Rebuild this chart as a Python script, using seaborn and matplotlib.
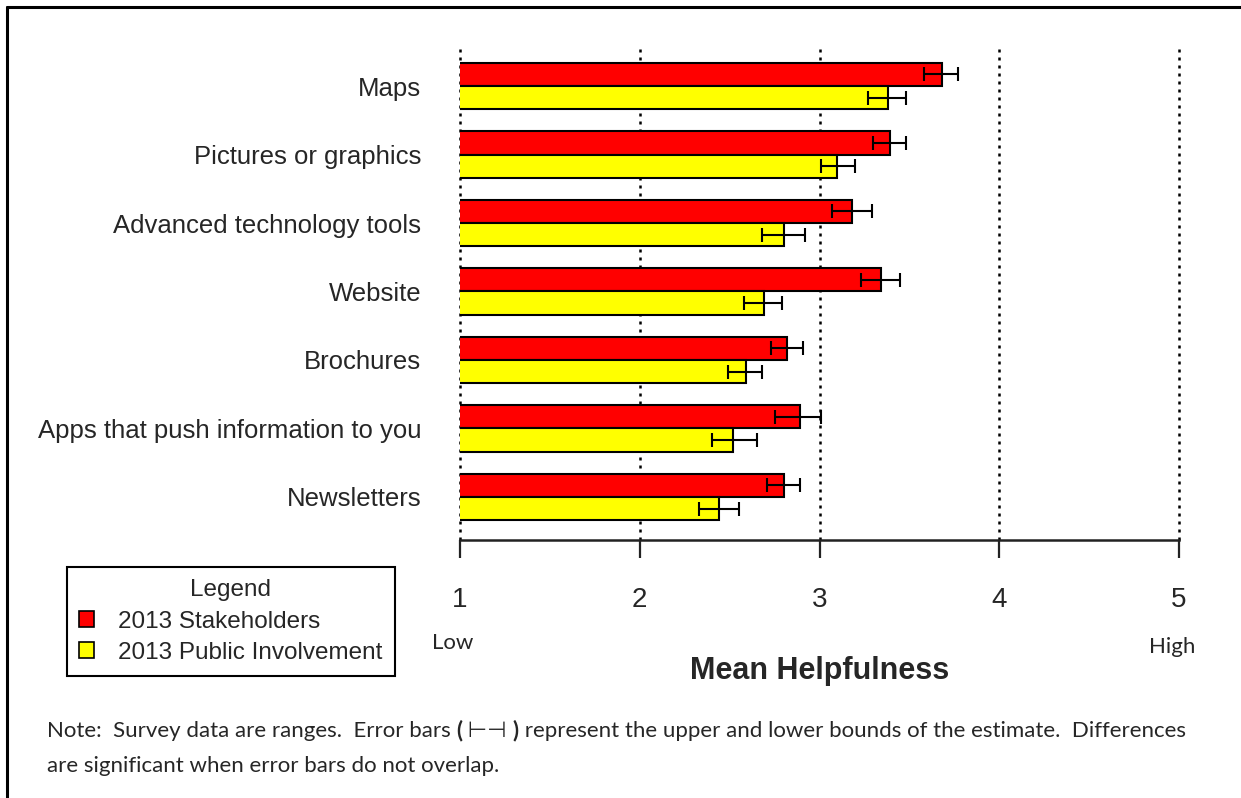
import pandas as pd
import numpy as np
import matplotlib.pyplot as plt
import seaborn as sns
from matplotlib.patches import Patch
from matplotlib.lines import Line2D

# ---------------------------
# Data
# ---------------------------
items = ["Maps", "Pictures or graphics", "Advanced technology tools", "Website",
         "Brochures", "Apps that push information to you", "Newsletters"]
groups = ["2013 Stakeholders", "2013 Public Involvement"]

stake_mean = [3.68, 3.39, 3.18, 3.34, 2.82, 2.89, 2.80]
stake_lo = [3.58, 3.30, 3.07, 3.23, 2.73, 2.75, 2.71]
stake_hi = [3.77, 3.48, 3.29, 3.45, 2.91, 3.01, 2.89]

public_mean = [3.38, 3.10, 2.80, 2.69, 2.59, 2.52, 2.44]
public_lo = [3.27, 3.01, 2.68, 2.58, 2.49, 2.40, 2.33]
public_hi = [3.48, 3.20, 2.92, 2.79, 2.68, 2.65, 2.55]

x_ticks = [1, 2, 3, 4, 5]
colors = ["#FF0000", "#FFFF00"]

df = pd.concat([
    pd.DataFrame({"item": items, "group": groups[0], "mean": stake_mean,
                  "lo": stake_lo, "hi": stake_hi}),
    pd.DataFrame({"item": items, "group": groups[1], "mean": public_mean,
                  "lo": public_lo, "hi": public_hi}),
], ignore_index=True)

# ---------------------------
# Style
# ---------------------------
sns.set_style("white")
plt.rcParams["font.family"] = ["Liberation Sans", "DejaVu Sans"]

W, H = 1241, 798
fig = plt.figure(figsize=(W / 100, H / 100), dpi=100)
ax = fig.add_axes([460 / W, 1 - 540 / H, (1179 - 460) / W, (540 - 45) / H])

# ---------------------------
# Bars
# ---------------------------
sns.barplot(data=df, x="mean", y="item", hue="group", order=items,
            hue_order=groups, palette=colors, saturation=1, orient="h",
            width=0.68, edgecolor="black", linewidth=1.5, errorbar=None,
            ax=ax, legend=False, zorder=2)

# error bars from lower/upper bounds
for cont, g in zip(ax.containers, groups):
    sub = df[df["group"] == g].set_index("item").loc[items]
    ys = [p.get_y() + p.get_height() / 2 for p in cont.patches]
    ax.errorbar(sub["mean"], ys,
                xerr=[sub["mean"] - sub["lo"], sub["hi"] - sub["mean"]],
                fmt="none", ecolor="black", elinewidth=1.5, capsize=4.7,
                capthick=1.5, zorder=3)

ax.set_xlim(1, 5)
ax.set_ylim(6.63, -0.6)
ax.set_xticks(x_ticks)
ax.set_xticklabels([str(t) for t in x_ticks])
ax.set_xlabel("")
ax.set_ylabel("")

for xv in x_ticks:
    ax.axvline(xv, color="black", lw=1.8, ls=(0, (1.2, 2.0)), zorder=1,
               clip_on=False)

for s in ["top", "left", "right"]:
    ax.spines[s].set_visible(False)
ax.spines["bottom"].set_color("#222222")
ax.spines["bottom"].set_linewidth(1.8)
ax.tick_params(axis="x", direction="out", length=13, width=1.6,
               color="#222222", pad=21, labelsize=20, bottom=True)
ax.tick_params(axis="y", length=0, pad=28, labelsize=18.5)

# ---------------------------
# Legend
# ---------------------------
handles = [Patch(facecolor=c, edgecolor="black", linewidth=1.2) for c in colors]
leg = ax.legend(handles, groups, title="Legend", loc="center",
                bbox_to_anchor=(231 / W, 1 - 621.5 / H),
                bbox_transform=fig.transFigure, fontsize=17.5,
                title_fontsize=17.5, frameon=True, fancybox=False,
                edgecolor="black", framealpha=1, borderpad=0.5,
                labelspacing=0.38, handlelength=0.6, handleheight=0.6,
                handletextpad=1.0)
leg.get_frame().set_linewidth(1.5)
leg.set_clip_on(False)

# ---------------------------
# Axis title and notes
# ---------------------------
fig.text(819.5 / W, 1 - 671 / H, "Mean Helpfulness", ha="center", va="center",
         fontsize=22, fontweight="bold")

note_font = ["Lato", "DejaVu Sans"]
note_size = 16
fig.text(453 / W, 1 - 643 / H, "Low", ha="center", va="center",
         fontsize=note_size, family=note_font)
fig.text(1172 / W, 1 - 647 / H, "High", ha="center", va="center",
         fontsize=note_size, family=note_font)

parts = [("Note:  Survey data are ranges.  Error bars ", "normal"),
         ("(", "bold"), (" \u22a2\u22a3 ", "normal"), (")", "bold"),
         (" represent the upper and lower bounds of the estimate.  Differences",
          "normal")]
prev = fig.text(47 / W, 1 - 731 / H, parts[0][0], ha="left", va="center",
                fontsize=note_size, family=note_font)
for txt, wt in parts[1:]:
    prev = ax.annotate(txt, xy=(1, 0), xycoords=prev, ha="left", va="bottom",
                       fontsize=note_size, fontweight=wt, family=note_font,
                       annotation_clip=False)
fig.text(47 / W, 1 - 766 / H, "are significant when error bars do not overlap.",
         ha="left", va="center", fontsize=note_size, family=note_font)

# outer frame (top and left edges)
fig.add_artist(Line2D([7 / W, 1], [1 - 7 / H, 1 - 7 / H], color="black",
                      lw=2.2, transform=fig.transFigure))
fig.add_artist(Line2D([7 / W, 7 / W], [1 - 7 / H, 0], color="black",
                      lw=2.2, transform=fig.transFigure))

plt.savefig("out.png", dpi=100)
